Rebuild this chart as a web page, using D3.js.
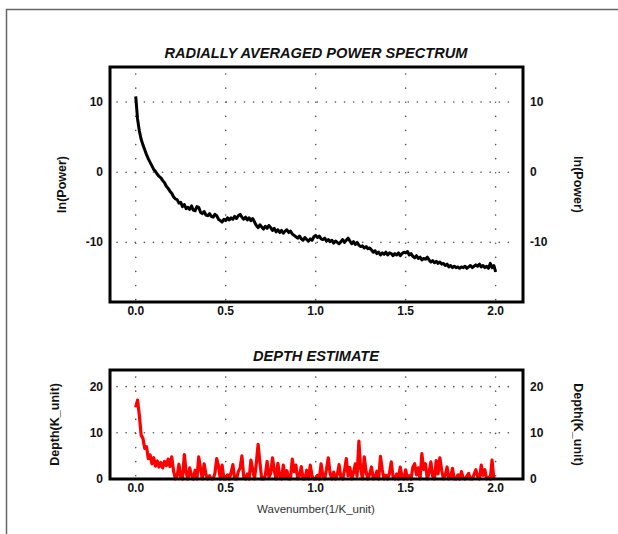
<!DOCTYPE html>
<html lang="en">
<head>
<meta charset="UTF-8">
<title>Radially Averaged Power Spectrum</title>
<script src="https://d3js.org/d3.v7.min.js"></script>
<style>
  body { margin: 0; background: #fff; }
  svg { display: block; font-family: "Liberation Sans", Arial, sans-serif; }
  .tick-lbl { font-size: 12px; font-weight: bold; fill: #111; }
  .ttl { font-size: 15.5px; font-weight: bold; font-style: italic; fill: #111; }
  .ylab { font-size: 12.5px; font-weight: bold; fill: #111; }
</style>
</head>
<body>
<div id="chart"></div>
<script>
// wavenumber step between samples (1/K_unit)
const step = 0.01;

// ln(Power), one value per wavenumber sample starting at 0
const powerValues = [
  10.8, 7.6, 5.9, 4.7, 3.9, 3.2, 2.5, 1.9, 1.4, 0.9,
  0.4, 0.1, -0.3, -0.6, -0.8, -1.2, -1.5, -2.0, -2.3, -2.7,
  -3.0, -3.5, -3.8, -3.9, -4.4, -4.3, -4.9, -4.6, -5.2, -5.0,
  -5.3, -4.8, -5.4, -5.5, -4.9, -5.0, -5.7, -5.9, -5.6, -6.1,
  -6.2, -5.9, -6.3, -6.4, -6.0, -6.2, -6.7, -6.9, -7.1, -6.7,
  -6.9, -6.5, -6.8, -6.5, -6.7, -6.3, -6.6, -6.2, -6.0, -6.4,
  -6.7, -6.4, -6.8, -6.5, -6.9, -6.6, -7.1, -7.6, -7.9, -7.5,
  -7.8, -8.1, -7.7, -8.0, -7.6, -7.9, -8.3, -8.0, -8.5, -8.2,
  -8.6, -8.3, -8.7, -8.4, -8.2, -8.6, -8.4, -8.8, -9.0, -9.2,
  -9.4, -9.1, -9.5, -9.7, -9.3, -9.6, -9.8, -9.5, -9.7, -9.2,
  -9.0, -9.3, -9.1, -9.5, -9.6, -9.4, -9.8, -9.6, -9.9, -9.7,
  -10.1, -9.8, -10.0, -10.2, -9.9, -9.6, -10.0, -9.7, -9.4, -9.8,
  -10.2, -9.9, -10.3, -10.0, -10.4, -10.6, -10.5, -10.8, -10.6, -10.9,
  -10.8, -11.1, -11.4, -11.2, -11.6, -11.4, -11.8, -11.5, -11.7, -11.4,
  -11.8, -11.5, -11.6, -11.9, -11.6, -11.8, -11.5, -11.9, -11.6, -11.4,
  -11.5, -11.3, -11.8, -11.6, -12.0, -12.2, -11.9, -12.3, -12.1, -12.5,
  -12.3, -12.4, -12.1, -12.5, -12.8, -12.6, -12.9, -12.7, -13.0, -12.8,
  -13.1, -13.0, -13.3, -13.1, -13.5, -13.3, -13.6, -13.4, -13.6, -13.5,
  -13.7, -13.5, -13.6, -13.4, -13.7, -13.5, -13.3, -13.6, -13.4, -13.2,
  -13.4, -13.1, -13.5, -13.3, -13.6, -13.4, -13.7, -13.0, -13.6, -13.3,
  -14.2
];

// depth estimate (K_unit), same wavenumber samples
const depthValues = [
  15.5, 17.1, 13.8, 9.5, 8.8, 6.6, 7.0, 4.4, 5.2, 3.3,
  4.6, 2.8, 3.9, 2.6, 3.6, 2.4, 3.8, 2.9, 4.3, 2.7,
  4.8, 1.8, 0, 0.6, 3.2, 0.4, 0, 5.3, 1.5, 0,
  2.4, 0.8, 0, 1.9, 0, 4.8, 2.2, 0, 3.3, 1.0,
  0, 0.7, 0, 0, 1.2, 4.4, 2.8, 0, 3.0, 0,
  0, 0.9, 0, 1.4, 3.1, 0, 0, 1.6, 2.4, 5.0,
  0.5, 0, 1.1, 0, 4.1, 2.0, 0, 3.4, 7.5, 3.6,
  0, 0, 0.8, 3.8, 0.4, 1.2, 4.6, 1.8, 0, 3.4,
  0.6, 0, 3.0, 0.3, 1.8, 0, 0, 4.3, 1.6, 3.0,
  0, 0.7, 2.7, 0, 0, 1.9, 0, 3.0, 0.6, 0,
  0, 0.8, 0, 3.3, 0.6, 0, 2.1, 4.6, 1.2, 0,
  1.5, 0, 0.9, 3.1, 0.4, 0, 1.8, 4.4, 0.7, 2.5,
  0, 1.4, 3.3, 0.6, 8.2, 2.2, 0, 4.8, 1.6, 0,
  1.1, 2.6, 0, 0.5, 1.7, 0, 4.9, 2.0, 0, 0.8,
  0, 1.3, 3.7, 0.4, 0, 1.1, 0, 2.6, 0.3, 0,
  2.0, 0, 0.7, 0, 2.6, 3.3, 0.9, 2.4, 0, 5.5,
  2.1, 3.3, 0, 1.4, 3.7, 0.6, 0, 4.0, 1.1, 4.6,
  1.9, 0, 0.8, 2.6, 0, 0.4, 2.3, 0, 0, 0.9,
  0, 1.6, 0.2, 0, 0.6, 1.2, 0, 0, 1.0, 2.0,
  0.5, 0, 3.0, 0.8, 2.0, 0, 0.4, 0, 4.1, 0
];

const xTicks = [0.0, 0.5, 1.0, 1.5, 2.0];
const powerTicks = [-10, 0, 10];
const depthTicks = [0, 10, 20];

const W = 618, H = 534;
const svg = d3.select("#chart").append("svg")
  .attr("width", W).attr("height", H);

// outer frame (only top and left edges visible)
svg.append("path")
  .attr("d", `M6.5,${H} L6.5,9.5 L${W},9.5`)
  .attr("fill", "none").attr("stroke", "#666").attr("stroke-width", 1.5);

const left = 110, right = 523;
const x = d3.scaleLinear().domain([-0.143, 2.152]).range([left, right]);

function panel(opt) {
  const y = d3.scaleLinear().domain(opt.yDomain).range([opt.bottom, opt.top]);
  const g = svg.append("g");

  // dotted grid
  g.selectAll(".vg").data(xTicks).enter().append("line")
    .attr("x1", d => x(d)).attr("x2", d => x(d))
    .attr("y1", opt.top + 7).attr("y2", opt.bottom)
    .attr("stroke", "#555").attr("stroke-width", 1.6)
    .attr("stroke-linecap", "round")
    .attr("stroke-dasharray", "0.1 14");
  g.selectAll(".hg").data(opt.yTicks.filter(d => y(d) < opt.bottom - 2)).enter().append("line")
    .attr("x1", left + 7).attr("x2", right - 6)
    .attr("y1", d => y(d)).attr("y2", d => y(d))
    .attr("stroke", "#555").attr("stroke-width", 1.6)
    .attr("stroke-linecap", "round")
    .attr("stroke-dasharray", "0.1 9");

  // data line
  const line = d3.line()
    .x((d, i) => x(i * step))
    .y(d => y(d));
  g.append("path")
    .datum(opt.values)
    .attr("fill", "none")
    .attr("stroke", opt.color)
    .attr("stroke-width", opt.lineWidth)
    .attr("stroke-linejoin", "round")
    .attr("d", line);

  // box
  g.append("rect")
    .attr("x", left).attr("y", opt.top)
    .attr("width", right - left).attr("height", opt.bottom - opt.top)
    .attr("fill", "none").attr("stroke", "#000").attr("stroke-width", 3);

  // tick labels
  g.selectAll(".yl").data(opt.yTicks).enter().append("text")
    .attr("class", "tick-lbl")
    .attr("x", left - 7).attr("y", d => y(d) + 4)
    .attr("text-anchor", "end").text(d => d);
  g.selectAll(".yr").data(opt.yTicks).enter().append("text")
    .attr("class", "tick-lbl")
    .attr("x", right + 7).attr("y", d => y(d) + 4)
    .attr("text-anchor", "start").text(d => d);
  g.selectAll(".xl").data(xTicks).enter().append("text")
    .attr("class", "tick-lbl")
    .attr("x", d => x(d)).attr("y", opt.bottom + 13)
    .attr("text-anchor", "middle").text(d => d.toFixed(1));

  // title
  g.append("text").attr("class", "ttl")
    .attr("x", 316).attr("y", opt.top - 9)
    .attr("text-anchor", "middle")
    .attr("textLength", opt.titleLen).attr("lengthAdjust", "spacingAndGlyphs")
    .text(opt.title);

  // y labels
  const cy = (opt.top + opt.bottom) / 2;
  g.append("text").attr("class", "ylab")
    .attr("transform", `translate(${opt.labelX + 4},${cy}) rotate(-90)`)
    .attr("text-anchor", "middle").text(opt.ylabel);
  g.append("text").attr("class", "ylab")
    .attr("transform", `translate(${574},${cy}) rotate(90)`)
    .attr("text-anchor", "middle").text(opt.ylabel);
}

panel({
  top: 67, bottom: 302, yDomain: [-18.5, 15], yTicks: powerTicks,
  values: powerValues, color: "#000", lineWidth: 3,
  title: "RADIALLY AVERAGED POWER SPECTRUM", titleLen: 303,
  ylabel: "ln(Power)", labelX: 62
});

panel({
  top: 370, bottom: 479, yDomain: [0, 23.6], yTicks: depthTicks,
  values: depthValues, color: "#ff0000", lineWidth: 3.2,
  title: "DEPTH ESTIMATE", titleLen: 126,
  ylabel: "Depth(K_unit)", labelX: 55
});

svg.append("text")
  .attr("x", 316).attr("y", 513)
  .attr("text-anchor", "middle")
  .attr("font-size", 11.5).attr("fill", "#333")
  .text("Wavenumber(1/K_unit)");
</script>
</body>
</html>
